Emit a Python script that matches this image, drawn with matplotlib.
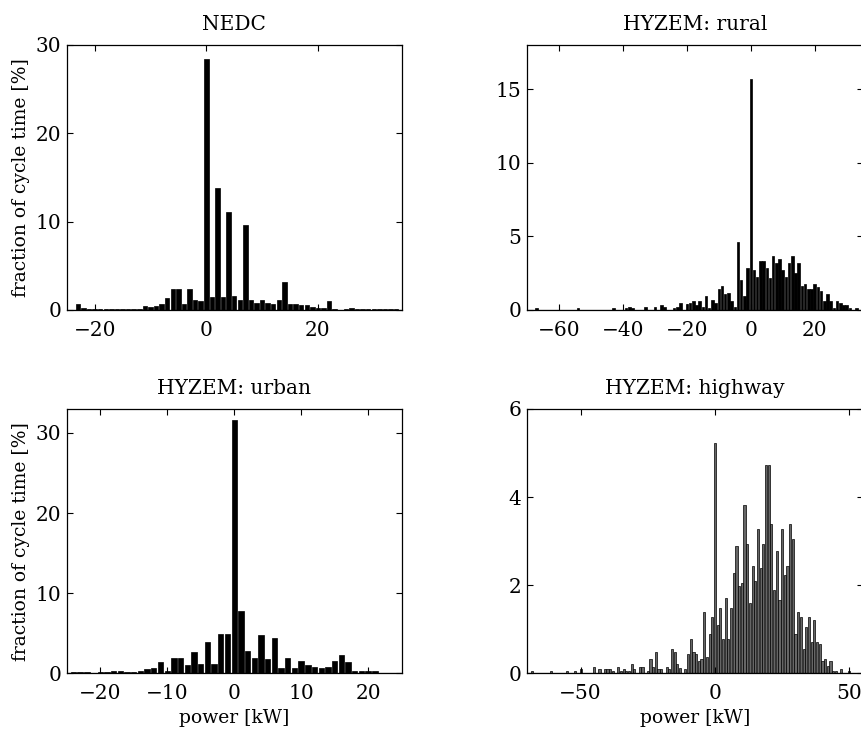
import numpy as np
import matplotlib
matplotlib.use("Agg")
import matplotlib.pyplot as plt

plt.rcParams['font.family'] = ['DejaVu Serif']
plt.rcParams['font.size'] = 13.5

# NEDC, bin centres -23 .. 34 kW
nedc_start = -23
nedc_vals = [0.68, 0.22, 0.1, 0.12, 0.1, 0.1, 0.08, 0.15, 0.08, 0.08,
             0.1, 0.15, 0.4, 0.38, 0.42, 0.7, 1.4, 2.4, 2.4, 0.7,
             2.4, 1.1, 1.0, 28.4, 1.5, 13.8, 1.5, 11.1, 1.6, 1.15,
             9.6, 1.1, 0.8, 1.1, 0.8, 0.65, 1.1, 3.2, 0.68, 0.68,
             0.53, 0.6, 0.38, 0.23, 0.23, 1.05, 0.12, 0.0, 0.1, 0.2,
             0.15, 0.15, 0.15, 0.15, 0.15, 0.15, 0.15, 0.15]

# HYZEM rural, bin centres -67 .. 33 kW
rural_start = -67
rural_vals = [0.1, 0, 0, 0, 0, 0, 0, 0, 0, 0, 0, 0, 0,
              0.1, 0, 0, 0, 0, 0, 0, 0, 0, 0, 0,
              0.1, 0, 0, 0, 0.14, 0.2, 0.1, 0, 0, 0,
              0.18, 0, 0, 0.18, 0, 0.34, 0.2, 0, 0, 0.1, 0.2, 0.45, 0,
              0.39, 0.5, 0.58, 0.36, 0.58, 0.23, 0.95, 0.1, 0.68, 0.46,
              1.41, 1.65, 1.07, 1.17, 0.58, 0.23, 4.64, 2.02, 0.95, 2.84,
              15.7, 2.73, 2.26, 3.32, 3.32, 2.84, 2.14, 3.68, 3.2, 3.43,
              2.73, 2.26, 3.2, 3.68, 2.48, 3.2, 1.65, 1.77, 1.41, 1.41,
              1.77, 1.53, 1.3, 0.58, 1.06, 0.58, 0.1, 0.58, 0.45, 0.36,
              0.36, 0.1, 0, 0.1]

# HYZEM urban, bin centres -24 .. 24 kW
urban_start = -24
urban_vals = [0.17, 0.17, 0.17, 0.05, 0.17, 0.17, 0.33, 0.33, 0.17, 0.17,
              0.33, 0.5, 0.66, 1.37, 0.22, 1.9, 1.9, 1.04, 2.6, 1.2,
              3.86, 1.2, 4.96, 4.96, 31.6, 7.8, 2.78, 1.9, 4.76, 1.72,
              4.4, 0.66, 1.9, 0.66, 1.56, 1.04, 0.83, 0.66, 0.83, 1.56,
              2.28, 1.37, 0.33, 0.33, 0.33, 0.33, 0.08, 0.08, 0.08]

# HYZEM highway, bin centres -68 .. 50 kW
highway_start = -68
highway_vals = [0.05, 0, 0, 0, 0, 0, 0, 0.05, 0, 0, 0, 0, 0,
                0.05, 0, 0, 0.05, 0, 0.1, 0, 0, 0, 0,
                0.15, 0, 0.1, 0, 0.1, 0.1, 0.1, 0.05, 0, 0.15,
                0.05, 0.1, 0.05, 0.05, 0.21, 0.1, 0, 0.15, 0.15, 0,
                0.05, 0.33, 0.15, 0.48, 0.1, 0.1, 0, 0.15, 0.1, 0.55,
                0.49, 0.22, 0.11, 0, 0.1, 0.44, 0.77, 0.48, 0.43, 0.27,
                0.32, 1.39, 0.38, 0.88, 1.27, 5.22, 1.1, 1.49, 0.77, 1.71,
                0.77, 1.49, 2.27, 2.88, 1.99, 2.05, 3.83, 2.93, 1.6, 2.44,
                2.1, 3.27, 2.39, 2.94, 4.72, 4.72, 3.39, 1.89, 2.77, 1.66,
                3.27, 2.22, 2.44, 3.39, 3.05, 0.89, 1.39, 1.27, 0.55, 1.05,
                1.27, 0.72, 1.22, 0.72, 0.66, 0.27, 0.33, 0.16, 0.27, 0.05,
                0.05, 0, 0.1, 0, 0, 0.05]

panels = [
    dict(title='NEDC', start=nedc_start, vals=nedc_vals,
         xlim=(-25, 35), ylim=(0, 30), xticks=[-20, 0, 20], yticks=[0, 10, 20, 30],
         pos=[0.0775, 0.576, 0.389, 0.3625], ylabel=True, xlabel=False, face='k'),
    dict(title='HYZEM: rural', start=rural_start, vals=rural_vals,
         xlim=(-70, 35), ylim=(0, 18), xticks=[-60, -40, -20, 0, 20], yticks=[0, 5, 10, 15],
         pos=[0.612, 0.576, 0.390, 0.3625], ylabel=False, xlabel=False, face='k'),
    dict(title='HYZEM: urban', start=urban_start, vals=urban_vals,
         xlim=(-25, 25), ylim=(0, 33), xticks=[-20, -10, 0, 10, 20], yticks=[0, 10, 20, 30],
         pos=[0.0775, 0.079, 0.389, 0.3616], ylabel=True, xlabel=True, face='k'),
    dict(title='HYZEM: highway', start=highway_start, vals=highway_vals,
         xlim=(-70, 55), ylim=(0, 6), xticks=[-50, 0, 50], yticks=[0, 2, 4, 6],
         pos=[0.612, 0.079, 0.390, 0.3616], ylabel=False, xlabel=True, face='0.4'),
]

fig = plt.figure(figsize=(8.61, 7.31), dpi=100)

for p in panels:
    ax = fig.add_axes(p['pos'])
    centres = np.arange(p['start'], p['start'] + len(p['vals']))
    ax.bar(centres, p['vals'], width=0.8, color=p['face'], edgecolor='k',
           linewidth=0.5)
    ax.plot(p['xlim'], [0, 0], color='k', lw=0.8)
    ax.set_xlim(p['xlim'])
    ax.set_ylim(p['ylim'])
    ax.set_xticks(p['xticks'])
    ax.set_yticks(p['yticks'])
    ax.tick_params(direction='in', top=True, right=True, length=4, width=0.8,
                   labelsize=14.5)
    ax.tick_params(axis='x', pad=8)
    ax.tick_params(axis='y', pad=4)
    for s in ax.spines.values():
        s.set_linewidth(0.9)
    ax.set_title(p['title'], pad=11, fontsize=14.5)
    if p['ylabel']:
        ax.set_ylabel('fraction of cycle time [%]')
    if p['xlabel']:
        ax.set_xlabel('power [kW]', labelpad=4)

fig.savefig('out.png', dpi=100)
